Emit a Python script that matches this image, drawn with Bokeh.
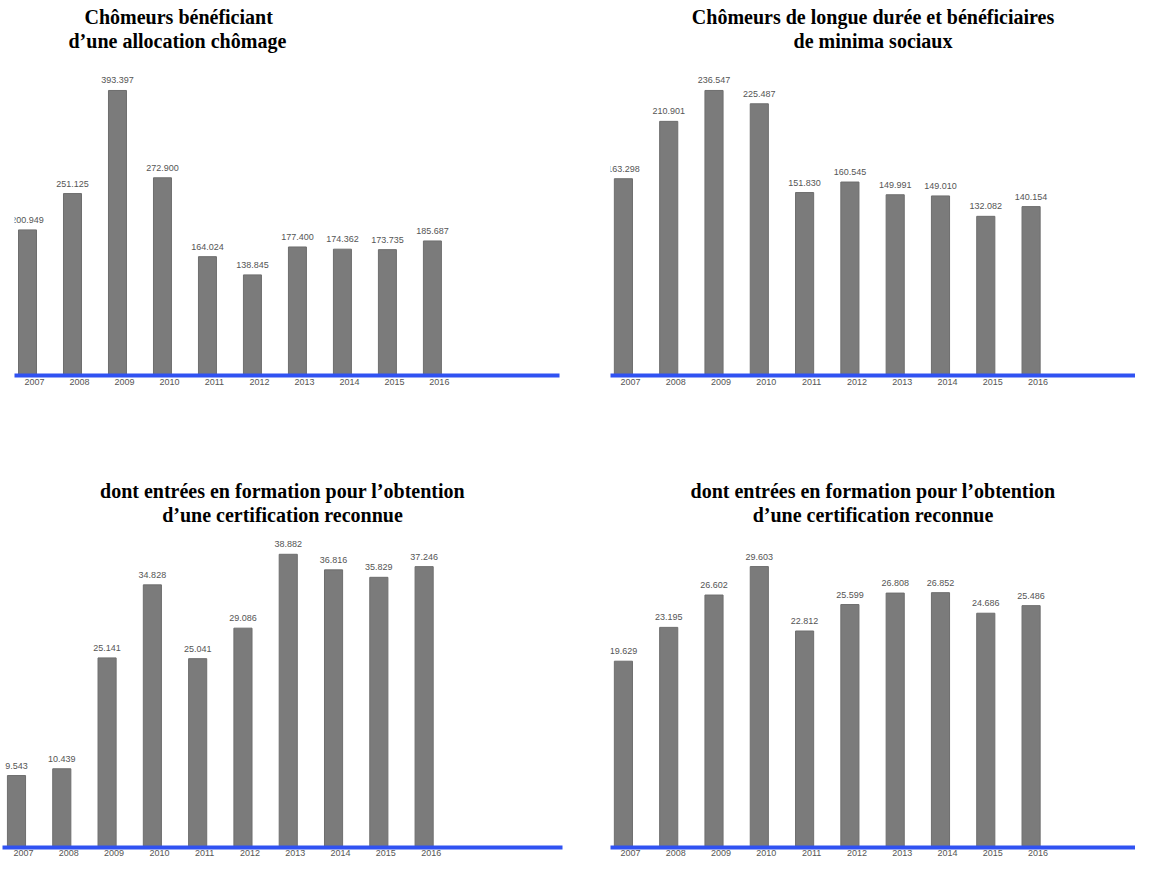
from bokeh.plotting import figure
from bokeh.models import Title, FixedTicker, Range1d, ColumnDataSource
from bokeh.layouts import column, row
from bokeh.embed import file_html
from bokeh.resources import INLINE
from bokeh.core.properties import value

years = ["2007", "2008", "2009", "2010", "2011", "2012", "2013", "2014", "2015", "2016"]
chomeurs_indemnises = [200949, 251125, 393397, 272900, 164024, 138845, 177400, 174362, 173735, 185687]
longue_duree_minima = [163298, 210901, 236547, 225487, 151830, 160545, 149991, 149010, 132082, 140154]
formation_indemnises = [9543, 10439, 25141, 34828, 25041, 29086, 38882, 36816, 35829, 37246]
formation_longue_duree = [19629, 23195, 26602, 29603, 22812, 25599, 26808, 26852, 24686, 25486]

titles = [
    ["Chômeurs bénéficiant", "d’une allocation chômage"],
    ["Chômeurs de longue durée et bénéficiaires", "de minima sociaux"],
    ["dont entrées en formation pour l’obtention", "d’une certification reconnue"],
    ["dont entrées en formation pour l’obtention", "d’une certification reconnue"],
]


def fmt(v):
    return f"{v:,}".replace(",", ".")


BAR_SHIFT = 0.155
TITLE_STYLE = dict(text_font="Liberation Serif", text_font_size="20px",
                   text_font_style="bold", text_color="black", standoff=0)


def panel(lines, vals, width, height, xr, y_end, mb, standoff=3, title_offsets=None):
    p = figure(width=width, height=height, x_range=Range1d(*xr), y_range=Range1d(0, y_end),
               output_backend="svg", toolbar_location=None,
               min_border_left=mb[0], min_border_right=mb[1],
               min_border_top=mb[2], min_border_bottom=mb[3])
    idx = list(range(len(vals)))
    src = ColumnDataSource(dict(x=[i - BAR_SHIFT for i in idx], top=vals,
                                label=[fmt(v) for v in vals]))
    p.vbar(x="x", top="top", bottom=0, width=0.4, source=src,
           fill_color="#7b7b7b", line_color="#6e6e6e", line_width=1)
    p.text(x="x", y="top", text="label", source=src, text_align="center",
           text_baseline="bottom", y_offset=-7, text_font=value("Liberation Sans"),
           text_font_size="9px", text_color="#555555")
    p.yaxis.visible = False
    p.xgrid.visible = False
    p.ygrid.visible = False
    p.outline_line_color = None
    p.background_fill_color = "white"
    p.border_fill_color = "white"
    ax = p.xaxis[0]
    ax.ticker = FixedTicker(ticks=idx)
    ax.major_label_overrides = {i: y for i, y in enumerate(years)}
    ax.axis_line_color = "#3052f2"
    ax.axis_line_width = 4
    ax.major_tick_line_color = None
    ax.minor_tick_line_color = None
    ax.major_tick_out = 0
    ax.major_tick_in = 0
    ax.major_label_text_font = "Liberation Sans"
    ax.major_label_text_font_size = "9px"
    ax.major_label_text_color = "#555555"
    ax.major_label_standoff = standoff
    if title_offsets is None:
        aligns = [("center", 0), ("center", 0)]
    else:
        aligns = [("left", title_offsets[0]), ("left", title_offsets[1])]
    p.title.text = lines[0]
    p.title.align = aligns[0][0]
    p.title.offset = aligns[0][1]
    for k, v in TITLE_STYLE.items():
        setattr(p.title, k, v)
    p.add_layout(Title(text=lines[1], align=aligns[1][0], offset=aligns[1][1],
                       **TITLE_STYLE), "above")
    return p


p1 = panel(titles[0], chomeurs_indemnises, 580, 430, (-0.444, 11.67), 447200, (14, 21, 51, 55),
           title_offsets=(70, 54))
p2 = panel(titles[1], longue_duree_minima, 555, 430, (-0.44, 11.15), 268880, (30, 0, 51, 55))
p3 = panel(titles[2], formation_indemnises, 580, 431, (-0.464, 11.9), 42700, (2, 18, 95, 14), standoff=2)
p4 = panel(titles[3], formation_longue_duree, 555, 431, (-0.44, 11.15), 33930, (30, 0, 95, 14), standoff=2)

layout = column(row(p1, p2), row(p3, p4))
open("out.html", "w").write(file_html(layout, INLINE))
